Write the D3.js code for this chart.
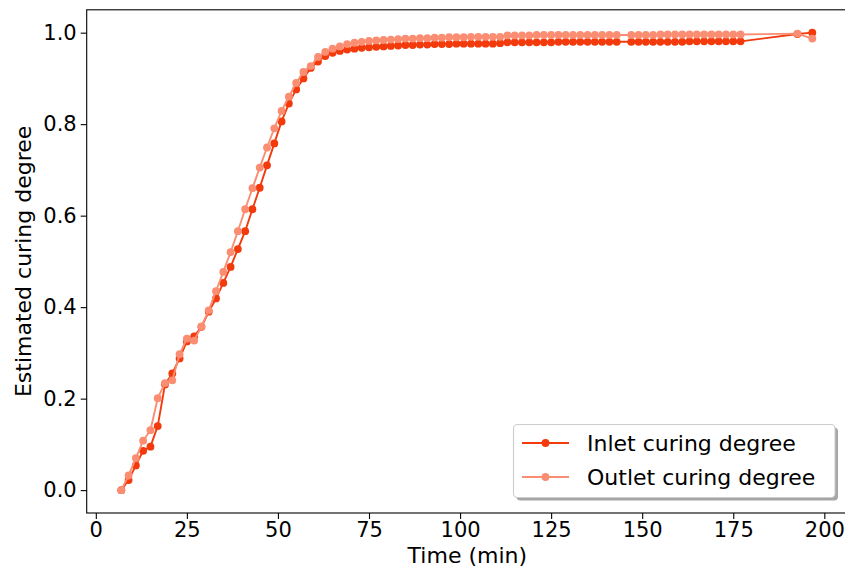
<!DOCTYPE html>
<html>
<head>
<meta charset="utf-8">
<script src="https://cdn.jsdelivr.net/npm/d3@7"></script>
<style>
  html, body { margin: 0; padding: 0; background: #fff; }
  svg { display: block; font-family: "DejaVu Sans", sans-serif; }
</style>
</head>
<body>
<svg id="chart" width="845" height="570"></svg>
<script>
// ---- data ----
const time = [7,9,11,13,15,17,19,21,23,25,27,29,31,33,35,37,39,41,43,45,47,49,51,53,55,
  57,59,61,63,65,67,69,71,73,75,77,79,81,
  83,85,87,89,91,93,95,97,99,101,103,105,107,109,111,
  113,115,117,119,121,123,125,127,129,131,133,135,137,139,141,143,
  147,149,151,153,155,157,159,161,163,165,167,169,171,173,175,177,
  192.6,196.7];

const inletCuring = [0.0,0.022,0.054,0.086,0.095,0.14,0.231,0.255,0.288,0.325,0.336,0.357,0.39,0.419,0.453,0.488,0.527,0.566,0.614,0.661,0.71,0.758,0.806,0.845,0.876,
  0.9,0.923,0.937,0.949,0.956,0.96,0.963,0.965,0.967,0.968,0.969,0.97,0.971,
  0.972,0.973,0.973,0.974,0.974,0.975,0.975,0.975,0.976,0.976,0.976,0.976,0.976,0.976,0.977,
  0.979,0.979,0.979,0.979,0.979,0.979,0.979,0.98,0.98,0.98,0.98,0.98,0.98,0.98,0.98,0.98,
  0.98,0.98,0.98,0.98,0.98,0.98,0.98,0.98,0.981,0.981,0.981,0.981,0.981,0.981,0.981,0.981,
  0.997,1.0];

const outletCuring = [0.0,0.032,0.07,0.108,0.131,0.201,0.234,0.24,0.297,0.331,0.327,0.358,0.393,0.435,0.477,0.52,0.566,0.614,0.66,0.705,0.749,0.791,0.829,0.86,0.89,
  0.914,0.927,0.947,0.958,0.965,0.97,0.975,0.978,0.98,0.982,0.983,0.984,0.985,
  0.986,0.987,0.987,0.988,0.988,0.989,0.989,0.99,0.99,0.99,0.991,0.991,0.991,0.991,0.991,
  0.994,0.994,0.994,0.994,0.995,0.995,0.995,0.995,0.995,0.995,0.995,0.995,0.995,0.995,0.995,0.995,
  0.995,0.995,0.995,0.995,0.996,0.996,0.996,0.996,0.996,0.996,0.996,0.996,0.996,0.996,0.996,0.996,
  0.998,0.987];

const xTicks = [0,25,50,75,100,125,150,175,200];
const yTicks = [0.0,0.2,0.4,0.6,0.8,1.0];
const seriesNames = ["Inlet curing degree","Outlet curing degree"];
const seriesColors = ["#f23a0c","#fa8d72"];

// ---- layout ----
const pLeft = 86.7, pRight = 848, pTop = 9.8, pBottom = 513;
const svg = d3.select("#chart");

const x = d3.scaleLinear().domain([-2.5, 206.5]).range([pLeft, pRight]);
const y = d3.scaleLinear().domain([-0.05, 1.05]).range([pBottom, pTop]);

// axes
const xAxis = svg.append("g")
  .attr("transform", `translate(0,${pBottom})`)
  .call(d3.axisBottom(x).tickValues(xTicks).tickFormat(d3.format("d")).tickSize(6).tickPadding(3));
xAxis.select(".domain").remove();
xAxis.selectAll("text").attr("font-size", 21).attr("fill", "#000").attr("font-family", "DejaVu Sans");
xAxis.selectAll("line").attr("stroke", "#000").attr("stroke-width", 1.1);

const yAxis = svg.append("g")
  .attr("transform", `translate(${pLeft},0)`)
  .call(d3.axisLeft(y).tickValues(yTicks).tickFormat(d3.format(".1f")).tickSize(6).tickPadding(4));
yAxis.select(".domain").remove();
yAxis.selectAll("text").attr("font-size", 21).attr("fill", "#000").attr("font-family", "DejaVu Sans");
yAxis.selectAll("line").attr("stroke", "#000").attr("stroke-width", 1.1);

// data series
const series = [inletCuring, outletCuring];
series.forEach((vals, i) => {
  const pts = time.map((t, j) => [t, vals[j]]);
  const g = svg.append("g");
  g.append("path")
    .datum(pts)
    .attr("fill", "none")
    .attr("stroke", seriesColors[i])
    .attr("stroke-width", 1.9)
    .attr("d", d3.line().x(d => x(d[0])).y(d => y(d[1])));
  g.selectAll("circle").data(pts).enter().append("circle")
    .attr("cx", d => x(d[0])).attr("cy", d => y(d[1]))
    .attr("r", 3.9).attr("fill", seriesColors[i]);
});

// frame
svg.append("rect")
  .attr("x", pLeft).attr("y", pTop)
  .attr("width", pRight - pLeft).attr("height", pBottom - pTop)
  .attr("fill", "none").attr("stroke", "#000").attr("stroke-width", 1.1);

// axis labels
svg.append("text")
  .attr("x", (pLeft + pRight) / 2).attr("y", 563)
  .attr("text-anchor", "middle").attr("font-size", 22).attr("fill", "#000")
  .text("Time (min)");
svg.append("text")
  .attr("transform", `translate(31,${(pTop + pBottom) / 2}) rotate(-90)`)
  .attr("text-anchor", "middle").attr("font-size", 22).attr("fill", "#000")
  .text("Estimated curing degree");

// legend
const lg = svg.append("g");
const lx = 513.5, ly = 424.5, lw = 321.5, lh = 73;
lg.append("rect").attr("x", lx + 3).attr("y", ly + 3).attr("width", lw).attr("height", lh)
  .attr("rx", 4).attr("fill", "#4d4d4d").attr("opacity", 0.5);
lg.append("rect").attr("x", lx).attr("y", ly).attr("width", lw).attr("height", lh)
  .attr("rx", 4).attr("fill", "#fff").attr("stroke", "#cccccc").attr("stroke-width", 1.1);
seriesNames.forEach((name, i) => {
  const yy = 443 + i * 34;
  lg.append("line").attr("x1", 522).attr("x2", 569).attr("y1", yy).attr("y2", yy)
    .attr("stroke", seriesColors[i]).attr("stroke-width", 1.9);
  lg.append("circle").attr("cx", 545.5).attr("cy", yy).attr("r", 3.9).attr("fill", seriesColors[i]);
  lg.append("text").attr("x", 587).attr("y", yy).attr("dy", "0.36em")
    .attr("font-size", 22).attr("fill", "#000").text(name);
});
</script>
</body>
</html>
